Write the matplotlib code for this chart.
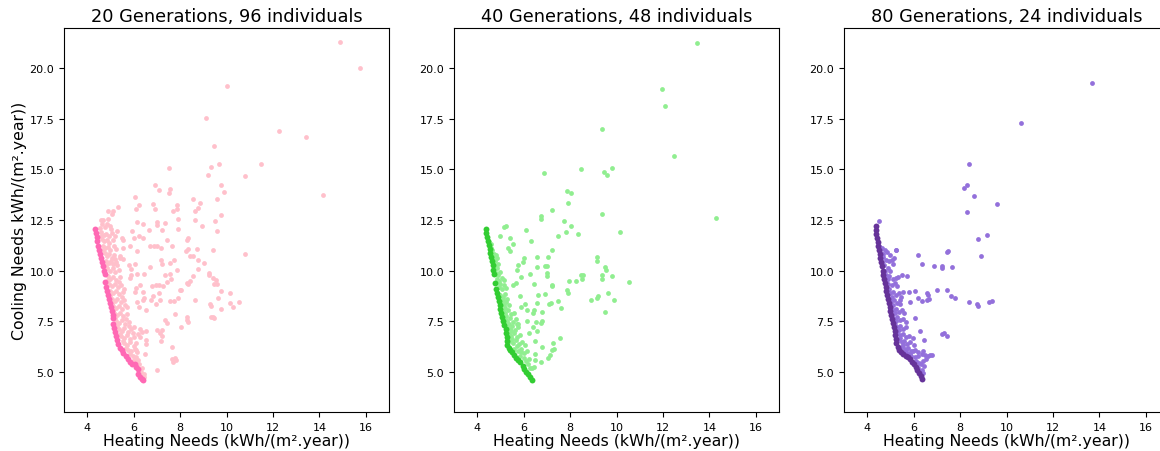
import numpy as np
import matplotlib
matplotlib.use("Agg")
import matplotlib.pyplot as plt

titles = ["20 Generations, 96 individuals",
          "40 Generations, 48 individuals",
          "80 Generations, 24 individuals"]
pop_colors = ["pink", "lightgreen", "mediumpurple"]
front_colors = ["hotpink", "limegreen", "rebeccapurple"]

# --- 20 generations ---
pop20 = [
    (14.87, 21.29), (15.73, 20.02), (10.04, 19.15), (9.11, 17.54), (12.28, 16.88),
    (13.44, 16.59), (9.47, 16.17), (11.47, 15.28), (9.68, 15.25), (9.35, 15.12),
    (7.50, 15.09), (9.22, 14.74), (10.78, 14.66), (9.78, 14.23), (6.90, 14.23),
    (14.14, 13.75), (7.07, 13.97), (7.56, 14.03), (7.50, 13.85), (9.91, 13.88),
    (6.04, 13.65), (9.61, 13.52), (8.56, 13.52), (8.85, 13.34), (6.84, 13.27),
    (6.24, 13.25), (7.85, 13.25), (8.75, 13.09), (5.31, 13.14), (6.90, 13.02),
    (6.10, 13.04), (7.85, 13.04), (7.70, 12.94), (8.62, 12.94), (9.75, 12.74),
    (4.89, 12.92), (5.09, 12.95), (5.05, 12.82), (8.62, 12.49), (9.52, 12.43),
    (7.89, 12.54), (7.00, 12.38), (6.13, 12.38), (6.38, 12.28), (7.36, 12.35),
    (6.99, 12.25), (8.94, 12.18), (4.61, 12.48), (4.69, 12.50), (4.88, 12.54),
    (4.98, 12.21), (5.02, 12.05), (9.57, 11.95), (7.90, 12.07), (7.22, 12.02),
    (6.66, 11.99), (5.91, 11.97), (5.27, 11.97), (5.19, 11.72), (6.21, 11.72),
    (6.41, 11.62), (6.01, 11.60), (5.48, 11.59), (5.56, 11.49), (8.36, 11.62),
    (8.28, 11.52), (7.43, 11.52), (6.87, 11.22), (6.70, 11.19), (7.01, 11.20),
    (7.17, 11.11), (5.84, 11.22), (5.55, 11.13), (7.67, 11.23), (9.42, 11.00),
    (8.73, 11.04), (8.35, 11.06), (8.25, 10.95), (10.78, 10.84), (6.15, 10.95),
    (5.41, 10.73), (8.56, 10.73), (8.42, 10.73), (7.17, 10.52), (7.75, 10.53),
    (7.21, 10.32), (7.57, 10.35), (9.02, 10.37), (8.76, 10.53), (5.54, 10.57),
    (5.81, 10.28), (6.04, 10.32), (6.70, 10.15), (5.87, 10.07), (7.85, 10.02),
    (8.76, 10.08), (9.24, 9.87), (9.24, 9.78), (6.15, 9.85), (7.56, 9.84),
    (7.36, 9.78), (6.44, 9.81), (8.55, 9.74), (9.42, 9.62), (9.54, 9.52),
    (7.60, 9.59), (5.88, 9.76), (5.84, 9.62), (8.42, 9.49), (7.42, 9.43),
    (7.10, 9.26), (6.96, 9.29), (6.27, 9.28), (6.80, 9.21), (7.26, 9.25),
    (8.28, 9.39), (8.35, 9.33), (9.47, 9.33), (9.57, 9.33), (6.38, 8.93),
    (7.07, 8.91), (6.46, 8.63), (6.82, 8.72), (6.05, 8.93), (6.10, 9.11),
    (8.00, 9.02), (8.03, 9.02), (9.75, 9.00), (10.15, 8.88), (9.64, 8.65),
    (7.89, 8.63), (8.63, 8.52), (7.57, 8.49), (7.75, 8.47), (6.38, 8.52),
    (6.73, 8.55), (7.13, 8.55), (6.15, 8.42), (6.96, 8.32), (10.54, 8.45),
    (10.15, 8.37), (10.26, 8.19), (9.28, 8.32), (9.35, 8.23), (9.77, 8.09),
    (6.53, 8.06), (6.22, 8.17), (7.80, 7.83), (7.35, 7.55), (7.42, 7.40),
    (8.28, 7.71), (8.28, 7.54), (8.35, 7.46), (9.42, 7.72), (9.35, 7.70),
    (9.45, 7.66), (8.03, 7.21), (7.20, 7.05), (6.99, 7.05), (6.55, 7.02),
    (7.13, 6.89), (7.20, 6.76), (6.27, 7.13), (6.35, 6.94), (6.17, 6.85),
    (6.01, 7.21), (6.27, 6.69), (6.53, 6.56), (6.51, 6.38), (7.19, 6.50),
    (7.67, 6.22), (6.49, 5.88), (7.65, 5.61), (7.76, 5.65), (7.83, 5.58),
    (7.70, 5.45), (6.99, 5.09), (6.40, 4.69),
    (4.55, 12.1), (4.65, 12.3), (4.75, 12.15), (4.85, 12.3), (4.6, 11.9),
    (4.7, 11.75), (4.8, 11.8), (4.95, 11.7), (5.05, 11.85), (4.62, 11.55),
    (4.72, 11.45), (4.85, 11.5), (4.95, 11.35), (5.1, 11.5), (4.68, 11.2),
    (4.78, 11.1), (4.9, 11.15), (5.0, 11.0), (5.15, 11.2), (5.25, 11.05),
    (4.75, 10.85), (4.85, 10.7), (4.95, 10.8), (5.05, 10.6), (5.15, 10.75),
    (4.8, 10.45), (4.92, 10.35), (5.02, 10.45), (5.12, 10.3), (5.25, 10.4),
    (4.85, 10.1), (4.98, 10.0), (5.1, 10.1), (5.2, 9.95), (5.35, 10.05),
    (4.9, 9.75), (5.0, 9.6), (5.12, 9.7), (5.25, 9.55), (5.4, 9.7),
    (4.95, 9.35), (5.08, 9.25), (5.2, 9.35), (5.32, 9.2), (5.45, 9.3),
    (5.0, 9.0), (5.12, 8.9), (5.25, 9.0), (5.38, 8.85), (5.55, 8.95),
    (5.05, 8.6), (5.18, 8.5), (5.3, 8.6), (5.45, 8.45), (5.6, 8.55),
    (5.1, 8.25), (5.22, 8.15), (5.35, 8.25), (5.5, 8.1), (5.7, 8.2),
    (5.15, 7.9), (5.28, 7.8), (5.42, 7.9), (5.55, 7.75), (5.7, 7.85),
    (5.25, 7.5), (5.38, 7.4), (5.5, 7.55), (5.62, 7.35), (5.8, 7.45),
    (5.35, 7.1), (5.48, 7.0), (5.6, 7.15), (5.75, 6.95), (5.9, 7.1),
    (5.45, 6.75), (5.58, 6.65), (5.7, 6.8), (5.85, 6.6), (6.0, 6.7),
    (5.6, 6.4), (5.72, 6.3), (5.85, 6.45), (6.0, 6.25), (6.1, 6.4),
    (5.75, 6.05), (5.9, 6.0), (6.05, 6.1), (6.15, 5.95), (5.95, 5.75),
    (6.1, 5.7), (6.2, 5.55), (6.25, 5.35), (6.35, 5.2), (6.3, 5.0),
    (6.45, 4.9), (6.45, 4.75),
    (4.58, 11.7), (4.67, 11.0), (4.82, 10.25), (4.9, 9.55), (4.98, 8.75),
    (5.05, 8.35), (5.12, 8.05), (5.2, 7.65), (5.3, 7.25), (5.4, 6.85),
    (5.52, 6.5), (5.66, 6.15), (5.82, 5.88), (6.02, 5.55), (5.58, 9.1),
    (5.48, 8.7), (5.62, 8.3), (5.65, 7.6), (5.78, 7.25), (5.95, 6.9),
    (6.12, 6.05), (5.38, 9.45), (5.3, 10.25), (5.4, 10.6), (5.2, 10.55),
]
front20 = [
    (4.33, 12.05), (4.36, 11.85), (4.40, 11.65), (4.44, 11.45),
    (4.48, 11.22), (4.52, 11.0), (4.56, 10.8), (4.60, 10.6), (4.64, 10.4),
    (4.68, 10.2), (4.72, 10.0), (4.76, 9.82),
    (4.77, 9.41), (4.81, 9.2), (4.85, 9.0), (4.89, 8.8), (4.93, 8.6),
    (4.97, 8.4), (5.01, 8.2), (5.05, 8.0), (5.09, 7.8), (5.12, 7.67),
    (5.10, 7.35), (5.14, 7.15), (5.18, 6.95), (5.22, 6.75), (5.27, 6.55),
    (5.33, 6.35), (5.40, 6.18), (5.48, 6.08),
    (5.55, 5.94), (5.65, 5.78), (5.75, 5.62), (5.85, 5.47), (5.91, 5.37),
    (6.05, 5.37), (6.12, 5.25), (6.20, 5.12),
    (6.20, 4.87), (6.28, 4.75), (6.35, 4.62), (6.41, 4.56),
]

# --- 40 generations ---
pop40 = [
    (13.47, 21.26), (11.95, 18.98), (12.10, 18.16), (12.46, 15.65), (9.37, 16.98),
    (8.49, 15.04), (9.45, 14.86), (9.61, 14.72), (9.82, 15.07), (6.89, 14.80),
    (7.85, 13.93), (8.06, 13.82), (7.89, 13.35), (7.24, 12.97), (9.37, 12.81),
    (14.27, 12.59), (6.74, 12.71), (6.74, 12.54), (7.75, 12.45), (8.02, 12.18),
    (7.82, 11.93), (8.35, 11.82), (7.50, 11.72), (10.17, 11.93), (6.11, 11.98),
    (6.31, 11.45), (5.16, 12.15), (5.22, 12.21), (4.98, 11.69), (5.39, 11.59),
    (5.52, 11.31), (5.32, 11.12), (5.40, 10.99), (7.23, 11.00), (6.03, 10.63),
    (6.56, 10.66), (7.04, 10.68), (9.16, 10.65), (9.16, 10.47), (5.97, 10.43),
    (5.74, 10.27), (6.56, 10.17), (6.94, 10.22), (6.99, 10.23), (9.52, 10.19),
    (9.56, 10.04), (5.72, 10.05), (6.27, 9.85), (5.90, 9.70), (7.01, 9.90),
    (7.01, 9.73), (8.45, 9.77), (8.56, 9.77), (8.52, 9.60), (9.39, 9.79),
    (9.39, 9.59), (9.80, 9.74), (10.53, 9.44), (7.96, 9.49), (8.25, 9.49),
    (6.46, 9.31), (7.20, 9.29), (7.22, 9.23), (5.67, 9.39), (5.55, 9.26),
    (5.84, 8.73), (6.63, 8.81), (6.93, 8.83), (7.85, 9.05), (7.92, 8.91),
    (9.64, 8.91), (8.92, 8.55), (9.21, 8.75), (9.14, 8.65), (9.90, 8.52),
    (7.49, 8.48), (7.59, 8.14), (7.16, 8.39), (7.07, 8.34), (6.58, 8.40),
    (6.07, 8.32), (5.87, 8.19), (6.16, 8.04), (6.46, 8.06), (6.81, 7.97),
    (9.52, 7.97), (6.41, 7.92), (6.51, 7.44), (6.73, 7.41), (6.77, 7.49),
    (5.77, 7.34), (6.13, 7.52), (7.56, 6.67), (6.41, 7.20), (6.24, 6.90),
    (6.58, 7.02), (6.47, 6.50), (7.27, 6.40), (7.23, 6.08), (7.31, 6.12),
    (7.13, 5.80), (7.06, 5.66), (6.76, 5.47), (6.80, 6.24), (6.48, 5.88),
    (6.48, 5.55), (6.27, 5.20),
    (4.52, 11.4), (4.6, 11.3), (4.65, 11.0), (4.72, 10.8), (4.8, 10.75),
    (4.7, 10.55), (4.78, 10.45), (4.86, 10.6), (4.75, 10.2), (4.85, 10.1),
    (4.8, 9.9), (4.9, 9.8), (5.0, 9.95), (4.85, 9.6), (4.95, 9.5),
    (5.05, 9.65), (5.15, 9.55), (4.95, 9.2), (5.05, 9.1), (5.15, 9.3),
    (5.25, 9.15), (5.0, 8.8), (5.1, 8.7), (5.2, 8.85), (5.3, 8.6),
    (5.05, 8.4), (5.15, 8.3), (5.25, 8.45), (5.38, 8.3), (5.1, 8.0),
    (5.2, 7.9), (5.32, 8.05), (5.45, 7.85), (5.2, 7.6), (5.3, 7.5),
    (5.42, 7.65), (5.55, 7.45), (5.65, 7.6), (5.28, 7.2), (5.4, 7.1),
    (5.5, 7.25), (5.62, 7.05), (5.75, 7.2), (5.35, 6.85), (5.45, 6.75),
    (5.58, 6.9), (5.7, 6.7), (5.85, 6.8), (5.4, 6.5), (5.52, 6.4),
    (5.65, 6.55), (5.78, 6.35), (5.92, 6.45), (6.05, 6.3), (5.6, 6.1),
    (5.75, 6.0), (5.9, 6.1), (6.0, 5.9), (6.15, 6.0), (5.85, 5.75),
    (6.0, 5.65), (6.1, 5.5), (6.2, 5.35), (6.35, 5.2), (6.45, 5.25),
    (4.6, 11.1), (4.68, 10.7), (4.9, 10.3), (4.98, 9.35), (5.12, 8.55),
    (5.18, 8.15), (5.25, 7.75), (5.35, 7.35), (5.45, 7.0), (5.5, 6.6),
    (5.72, 6.25), (5.88, 5.95), (6.25, 5.6), (5.6, 7.9), (5.7, 7.35),
]
front40 = [
    (4.36, 12.05), (4.39, 11.85), (4.42, 11.65), (4.46, 11.45), (4.50, 11.25),
    (4.54, 11.05), (4.57, 10.85), (4.60, 10.65), (4.63, 10.45), (4.66, 10.25),
    (4.69, 10.05), (4.72, 9.85), (4.76, 9.38), (4.80, 9.1), (4.84, 8.9),
    (4.88, 8.7), (4.92, 8.5), (4.96, 8.3), (5.00, 8.1), (5.04, 7.9),
    (5.08, 7.7), (5.12, 7.5), (5.17, 7.3), (5.22, 7.1), (5.25, 6.9),
    (5.27, 6.7), (5.28, 6.5), (5.30, 6.3), (5.36, 6.17), (5.43, 6.05),
    (5.50, 5.95), (5.58, 5.8), (5.66, 5.67), (5.75, 5.57), (5.85, 5.48),
    (5.95, 5.3), (6.03, 5.15), (6.12, 5.0), (6.20, 4.87), (6.28, 4.73),
    (6.37, 4.6),
]

# --- 80 generations ---
pop80 = [
    (13.67, 19.26), (10.64, 17.30), (8.39, 15.25), (8.30, 14.24), (8.18, 14.06),
    (8.58, 13.70), (9.58, 13.29), (8.28, 12.88), (4.51, 12.43), (9.14, 11.78),
    (8.79, 11.55), (8.92, 10.70), (5.22, 11.03), (6.18, 10.75), (7.50, 10.96),
    (7.44, 10.90), (6.35, 10.33), (6.87, 10.23), (7.23, 10.20), (7.24, 10.13),
    (7.65, 10.17), (7.01, 9.05), (7.42, 9.05), (6.05, 9.01), (5.81, 8.95),
    (6.56, 8.87), (6.60, 8.80), (6.17, 8.65), (7.60, 8.72), (7.76, 8.65),
    (6.37, 8.48), (6.56, 8.54), (6.66, 8.59), (5.86, 8.45), (8.38, 8.42),
    (8.73, 8.35), (8.78, 8.25), (9.24, 8.45), (9.39, 8.47), (5.52, 8.92),
    (6.07, 7.66), (6.27, 7.00), (6.46, 6.57), (7.23, 6.87), (7.32, 6.90),
    (7.44, 6.74), (5.70, 9.74), (5.48, 9.77), (5.24, 11.03), (4.98, 10.79),
    (5.14, 10.63), (5.98, 6.01), (6.77, 5.83), (6.70, 5.83), (6.41, 6.04),
    (6.24, 5.43),
    (4.5, 11.2), (4.62, 11.1), (4.75, 11.0), (4.85, 10.9), (4.58, 10.85),
    (4.7, 10.65), (4.82, 10.5), (4.95, 10.45), (5.05, 10.5), (5.12, 10.3),
    (4.62, 10.4), (4.74, 10.25), (4.88, 10.1), (5.0, 10.0), (4.7, 9.9),
    (4.82, 9.8), (4.95, 9.75), (5.1, 9.6), (5.22, 9.65), (5.32, 9.7),
    (4.8, 9.5), (4.9, 9.35), (5.05, 9.3), (5.18, 9.4), (5.3, 9.25),
    (4.85, 9.05), (4.98, 8.9), (5.1, 8.95), (5.22, 8.8), (5.35, 8.9),
    (5.45, 8.7), (4.9, 8.6), (5.02, 8.5), (5.15, 8.55), (5.28, 8.4),
    (5.42, 8.35), (5.0, 8.15), (5.1, 8.05), (5.22, 8.1), (5.35, 7.95),
    (5.48, 8.05), (5.58, 7.9), (5.08, 7.75), (5.18, 7.6), (5.3, 7.7),
    (5.42, 7.55), (5.55, 7.6), (5.65, 7.45), (5.2, 7.3), (5.3, 7.2),
    (5.42, 7.25), (5.55, 7.1), (5.68, 7.2), (5.28, 6.9), (5.4, 6.8),
    (5.52, 6.85), (5.65, 6.7), (5.8, 6.75), (5.95, 6.65), (5.35, 6.55),
    (5.48, 6.45), (5.6, 6.5), (5.72, 6.35), (5.85, 6.45), (6.0, 6.3),
    (5.5, 6.2), (5.62, 6.1), (5.75, 6.15), (5.9, 6.0), (6.05, 6.05),
    (6.2, 5.95), (5.75, 5.85), (5.9, 5.75), (6.05, 5.7), (6.2, 5.75),
    (6.35, 5.85), (6.5, 5.8), (6.6, 5.75), (6.55, 5.6), (6.4, 5.5),
    (6.3, 5.35), (6.2, 5.2), (6.35, 5.1), (6.45, 5.3), (6.3, 4.85),
    (6.4, 4.95),
    (4.66, 10.8), (4.78, 10.0), (4.88, 9.6), (4.95, 9.1), (5.05, 8.7),
    (5.12, 8.3), (5.18, 7.9), (5.25, 7.5), (5.35, 7.05), (5.42, 6.65),
    (5.55, 6.3), (5.68, 6.0), (5.85, 5.85), (6.1, 5.5), (5.4, 8.55),
]
front80 = [
    (4.36, 12.2), (4.37, 12.0), (4.39, 11.8), (4.42, 11.6), (4.45, 11.4),
    (4.48, 11.2), (4.51, 11.0), (4.54, 10.8), (4.57, 10.6), (4.60, 10.4),
    (4.63, 10.2), (4.66, 10.0), (4.69, 9.8), (4.72, 9.6), (4.76, 9.4),
    (4.79, 9.2), (4.82, 9.0), (4.86, 8.8), (4.89, 8.6), (4.92, 8.4),
    (4.96, 8.2), (5.00, 8.0), (5.04, 7.8), (5.08, 7.6), (5.12, 7.4),
    (5.15, 7.2), (5.18, 7.0), (5.21, 6.8), (5.23, 6.6), (5.26, 6.4),
    (5.31, 6.2), (5.38, 6.08), (5.46, 5.97), (5.55, 5.87), (5.65, 5.78),
    (5.75, 5.7), (5.84, 5.6), (5.92, 5.48), (6.00, 5.35), (6.08, 5.22),
    (6.16, 5.08), (6.23, 4.94), (6.30, 4.78), (6.36, 4.62),
]

pops = [pop20, pop40, pop80]
fronts = [front20, front40, front80]

fig = plt.figure(figsize=(11.6, 4.52), dpi=100)
lefts = [0.0552, 0.3914, 0.7276]

for i in range(3):
    ax = fig.add_axes([lefts[i], 0.0863, 0.2802, 0.8496])
    p = np.array(pops[i])
    f = np.array(fronts[i])
    ax.scatter(p[:, 0], p[:, 1], s=12, color=pop_colors[i], linewidths=0)
    ax.scatter(f[:, 0], f[:, 1], s=18, color=front_colors[i], linewidths=0)
    ax.set_xlim(3, 17)
    ax.set_ylim(3, 22)
    ax.set_title(titles[i], fontsize=12.8, pad=5)
    ax.set_xlabel("Heating Needs (kWh/(m².year))", fontsize=11.3, labelpad=1)
    ax.tick_params(labelsize=8)
    if i == 0:
        ax.set_ylabel("Cooling Needs kWh/(m².year))", fontsize=11.3, labelpad=2)

fig.savefig("out.png", dpi=100)
